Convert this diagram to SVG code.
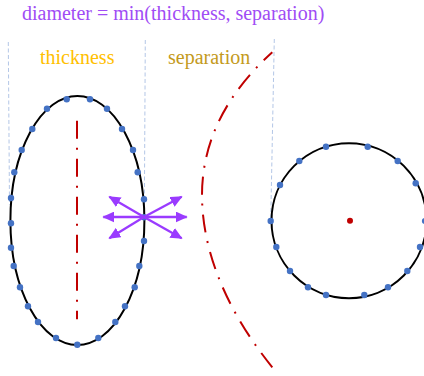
<svg xmlns="http://www.w3.org/2000/svg" width="424" height="376" viewBox="0 0 424 376">
  <style>
    .guide { fill: none; stroke: #B4C7E7; stroke-width: 1; stroke-dasharray: 4 2.5; }
    .axis { fill: none; stroke: #C00000; stroke-width: 2; stroke-dasharray: 18 9 2 9; }
    .outline { fill: none; stroke: #000; stroke-width: 2; }
    .pt { fill: #4472C4; }
    .arrow { stroke: #9A3BFF; stroke-width: 2.3; fill: none; marker-end: url(#ah); }
    .lbl { font-family: "Liberation Serif", "Times New Roman", serif; font-size: 20px; }
  </style>
  <defs>
    <marker id="ah" markerUnits="userSpaceOnUse" markerWidth="12" markerHeight="11" refX="11" refY="5.5" orient="auto" viewBox="0 0 12 11">
      <path d="M0,0 L12,5.5 L0,11 z" fill="#9A3BFF"/>
    </marker>
  </defs>

  <g id="title">
    <text class="lbl" x="22" y="19.5" fill="#A04CF5">diameter = min(thickness, separation)</text>
  </g>
  <g id="label-thickness">
    <text class="lbl" x="40" y="64" fill="#FFC000">thickness</text>
  </g>
  <g id="label-separation">
    <text class="lbl" x="168" y="64" fill="#C49A1C">separation</text>
  </g>

  <g id="guides">
    <path class="guide" d="M8.3,42 L9.5,205"/>
    <path class="guide" d="M145.3,40 L144.3,217"/>
    <path class="guide" d="M274.3,39 L270.7,221"/>
  </g>

  <g id="separation-arc">
    <path class="axis" d="M272.3,367.3 C218,300 202,240 202,195 C202,140 228,92 272.3,52.3"/>
  </g>

  <g id="ellipse-node">
    <ellipse class="outline" cx="77.4" cy="220.5" rx="67" ry="124.5"/>
    <path class="axis" d="M77,120.7 V319.3"/>
    <g class="pt">
      <circle cx="66.7" cy="99.3" r="3.2"/><circle cx="90" cy="99.3" r="3.2"/>
      <circle cx="47" cy="108.7" r="3.2"/><circle cx="107" cy="108.7" r="3.2"/>
      <circle cx="32.3" cy="129" r="3.2"/><circle cx="122" cy="129" r="3.2"/>
      <circle cx="21.7" cy="150" r="3.2"/><circle cx="133" cy="150" r="3.2"/>
      <circle cx="14.3" cy="172.3" r="3.2"/><circle cx="137.7" cy="172.3" r="3.2"/>
      <circle cx="11" cy="198" r="3.2"/><circle cx="144" cy="199.3" r="3.2"/>
      <circle cx="11" cy="223.3" r="3.2"/><circle cx="144" cy="217.3" r="3.2"/>
      <circle cx="11" cy="247.7" r="3.2"/><circle cx="144" cy="241" r="3.2"/>
      <circle cx="13.7" cy="266" r="3.2"/><circle cx="139.3" cy="266" r="3.2"/>
      <circle cx="20" cy="287.3" r="3.2"/><circle cx="134.7" cy="287.3" r="3.2"/>
      <circle cx="28" cy="306.3" r="3.2"/><circle cx="125" cy="306.3" r="3.2"/>
      <circle cx="38" cy="322" r="3.2"/><circle cx="115.3" cy="322" r="3.2"/>
      <circle cx="56" cy="338" r="3.2"/><circle cx="98.3" cy="338" r="3.2"/>
      <circle cx="77.3" cy="344.7" r="3.2"/>
    </g>
  </g>

  <g id="circle-node">
    <circle class="outline" cx="349" cy="220.7" r="77.5"/>
    <circle cx="350" cy="220.7" r="3" fill="#C00000"/>
    <g class="pt">
      <circle cx="326" cy="146.7" r="3.2"/><circle cx="367.7" cy="146.7" r="3.2"/>
      <circle cx="299.3" cy="161" r="3.2"/><circle cx="397.7" cy="161" r="3.2"/>
      <circle cx="280" cy="185" r="3.2"/><circle cx="415.7" cy="183.3" r="3.2"/>
      <circle cx="270.7" cy="221" r="3.2"/><circle cx="425" cy="221" r="3.2"/>
      <circle cx="276.3" cy="247" r="3.2"/><circle cx="420" cy="247" r="3.2"/>
      <circle cx="290" cy="271" r="3.2"/><circle cx="407.3" cy="271" r="3.2"/>
      <circle cx="308" cy="287.3" r="3.2"/><circle cx="388" cy="287.3" r="3.2"/>
      <circle cx="326" cy="295" r="3.2"/><circle cx="364.3" cy="295" r="3.2"/>
    </g>
  </g>

  <g id="connectors">
    <line class="arrow" x1="144" y1="217" x2="103.3" y2="217"/>
    <line class="arrow" x1="144" y1="217" x2="186.7" y2="217"/>
    <line class="arrow" x1="144" y1="217" x2="109.3" y2="196.7"/>
    <line class="arrow" x1="144" y1="217" x2="181.7" y2="196.7"/>
    <line class="arrow" x1="144" y1="217" x2="109.3" y2="238.3"/>
    <line class="arrow" x1="144" y1="217" x2="181.7" y2="238.3"/>
  </g>
</svg>
